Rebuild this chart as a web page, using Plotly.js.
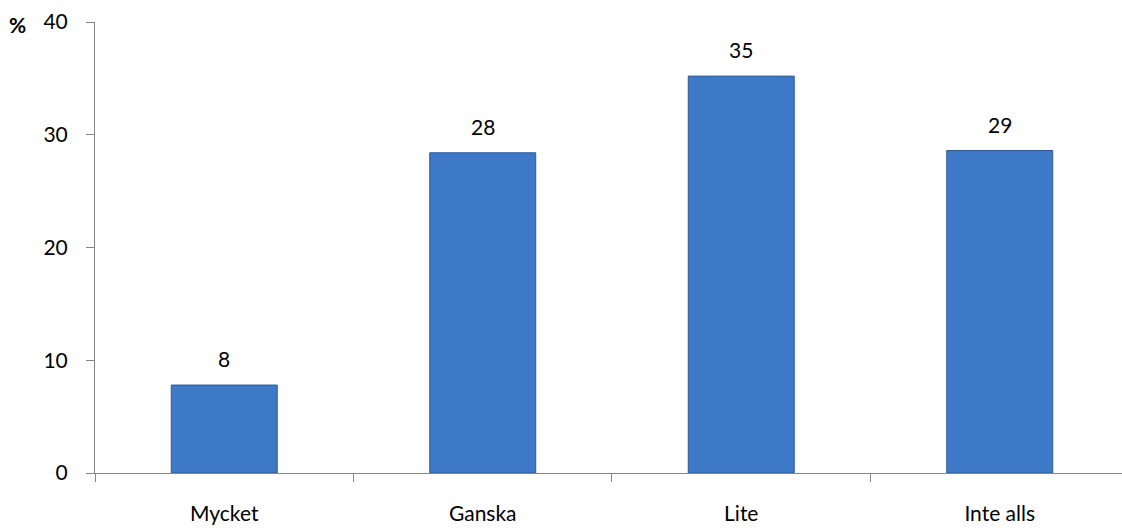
<!DOCTYPE html>
<html>
<head>
<meta charset="utf-8">
<script src="https://cdn.plot.ly/plotly-3.0.1.min.js"></script>
<style>html,body{margin:0;padding:0;background:#fff;}#chart{width:1122px;height:529px;}</style>
</head>
<body>
<div id="chart"></div>
<script>
const categories = ["Mycket", "Ganska", "Lite", "Inte alls"];
const values = [7.8, 28.4, 35.2, 28.6];
const labels = ["8", "28", "35", "29"];
const yTicks = [0, 10, 20, 30, 40];

const font = "Lato, 'Open Sans', 'DejaVu Sans', sans-serif";

const trace = {
  type: "bar",
  x: categories,
  y: values,
  width: 0.41,
  marker: { color: "#3E79C7", line: { color: "#2D5A96", width: 1 } },
  hoverinfo: "x+y"
};

const annotations = categories.map((c, i) => ({
  x: c, y: values[i], xref: "x", yref: "y",
  text: labels[i], showarrow: false,
  yanchor: "bottom", yshift: 12,
  font: { family: font, size: 21, color: "#000" }
}));
annotations.push({
  xref: "paper", yref: "paper", x: -0.086, y: 1.0,
  xanchor: "left", yanchor: "top", yshift: 12,
  text: "<b>%</b>", showarrow: false,
  font: { family: font, size: 21, color: "#000" }
});

const layout = {
  width: 1122, height: 529,
  margin: { l: 95, r: 0, t: 22, b: 56 },
  paper_bgcolor: "#fff", plot_bgcolor: "#fff",
  showlegend: false,
  xaxis: {
    type: "category",
    range: [-0.5, 3.473],
    tickson: "boundaries",
    ticks: "outside", ticklen: 8, tickcolor: "#868686", tickwidth: 1,
    showline: true, linecolor: "#868686", linewidth: 1,
    showgrid: false, zeroline: false,
    ticklabelstandoff: 22,
    tickfont: { family: font, size: 21, color: "#000" }
  },
  yaxis: {
    range: [0, 40],
    tickvals: yTicks, ticktext: yTicks.map(String),
    ticks: "outside", ticklen: 8, tickcolor: "#868686", tickwidth: 1,
    showline: true, linecolor: "#868686", linewidth: 1,
    showgrid: false, zeroline: false,
    ticklabelstandoff: 14,
    tickfont: { family: font, size: 21, color: "#000" }
  },
  annotations: annotations,
  bargap: 0.59
};

Plotly.newPlot("chart", [trace], layout, { displayModeBar: false, staticPlot: true });
</script>
</body>
</html>
